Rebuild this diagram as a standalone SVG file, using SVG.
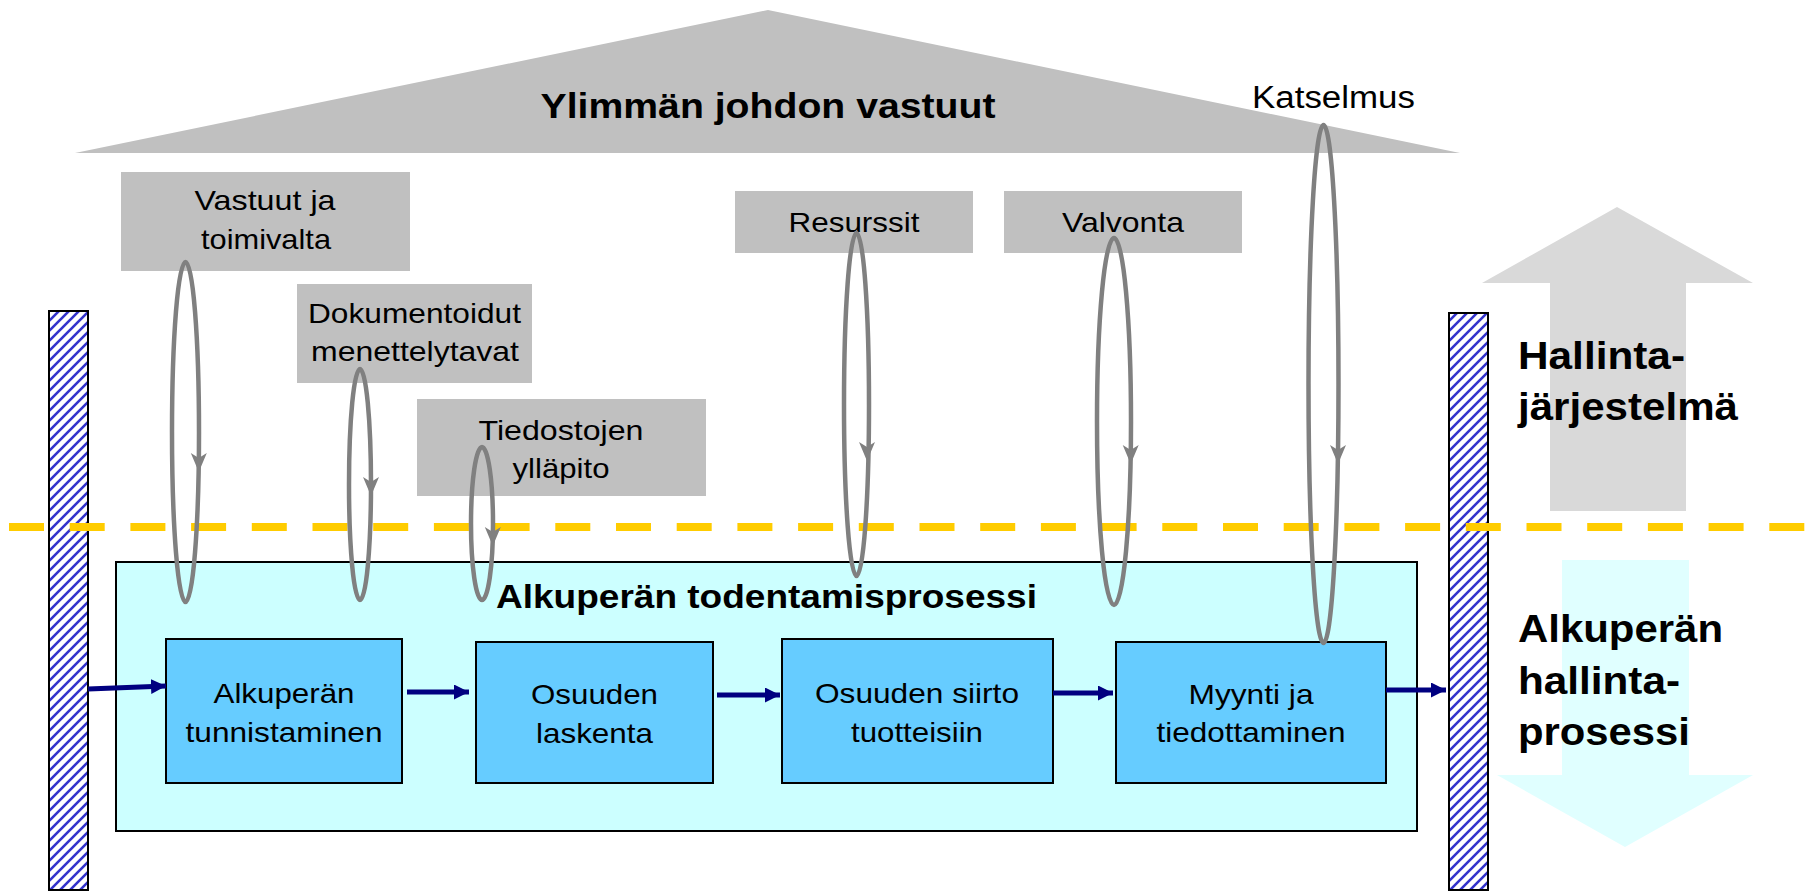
<svg xmlns="http://www.w3.org/2000/svg" width="1805" height="892" viewBox="0 0 1805 892">
<style>
.lbl{font-family:"Liberation Sans",Arial,sans-serif;font-size:28px;fill:#000;text-anchor:middle}
.bold{font-family:"Liberation Sans",Arial,sans-serif;font-weight:bold;fill:#000}
.gbox{fill:#c0c0c0}
.pbox{fill:#66ccff;stroke:#000;stroke-width:2}
.loop{fill:none;stroke:#808080;stroke-width:4.5}
.lhead{fill:#808080}
.flow{stroke:#000080;stroke-width:5;fill:none}
.bar{fill:url(#hatch);stroke:#000;stroke-width:2}
</style>
<defs>
<pattern id="hatch" patternUnits="userSpaceOnUse" width="10" height="10">
<rect width="10" height="10" fill="#fff"/>
<path d="M-1,1 l2,-2 M0,10 l10,-10 M9,11 l2,-2" stroke="#3333cc" stroke-width="2.6"/>
</pattern>
<marker id="ah" markerUnits="userSpaceOnUse" markerWidth="16" markerHeight="16" refX="15" refY="7.5" orient="auto">
<path d="M0,0 L15,7.5 L0,15 z" fill="#000080"/>
</marker>
</defs>

<g id="roof">
<polygon points="75,153 768,10 1460,153" fill="#c0c0c0"/>
<text class="bold" x="768" y="118" font-size="34.5" text-anchor="middle" textLength="455" lengthAdjust="spacingAndGlyphs">Ylimmän johdon vastuut</text>
</g>
<g id="katselmus-label">
<text x="1252" y="108" font-family="Liberation Sans,Arial,sans-serif" font-size="31" textLength="163" lengthAdjust="spacingAndGlyphs">Katselmus</text>
</g>

<g id="vastuut">
<rect class="gbox" x="121" y="172" width="289" height="99"/>
<text class="lbl" x="265" y="210" textLength="141" lengthAdjust="spacingAndGlyphs">Vastuut ja</text>
<text class="lbl" x="266" y="249" textLength="130" lengthAdjust="spacingAndGlyphs">toimivalta</text>
</g>
<g id="dokumentoidut">
<rect class="gbox" x="297" y="284" width="235" height="99"/>
<text class="lbl" x="414.5" y="323" textLength="213" lengthAdjust="spacingAndGlyphs">Dokumentoidut</text>
<text class="lbl" x="415" y="361" textLength="208" lengthAdjust="spacingAndGlyphs">menettelytavat</text>
</g>
<g id="tiedostojen">
<rect class="gbox" x="417" y="399" width="289" height="97"/>
<text class="lbl" x="561" y="440" textLength="165" lengthAdjust="spacingAndGlyphs">Tiedostojen</text>
<text class="lbl" x="561" y="478" textLength="97" lengthAdjust="spacingAndGlyphs">ylläpito</text>
</g>
<g id="resurssit">
<rect class="gbox" x="735" y="191" width="238" height="62"/>
<text class="lbl" x="854" y="232" textLength="131" lengthAdjust="spacingAndGlyphs">Resurssit</text>
</g>
<g id="valvonta">
<rect class="gbox" x="1004" y="191" width="238" height="62"/>
<text class="lbl" x="1123" y="232" textLength="122" lengthAdjust="spacingAndGlyphs">Valvonta</text>
</g>

<g id="up-arrow">
<polygon points="1617,207 1753,283 1686,283 1686,511 1550,511 1550,283 1482,283" fill="#d9d9d9"/>
<text class="bold" x="1518" y="369" font-size="38" textLength="167" lengthAdjust="spacingAndGlyphs">Hallinta-</text>
<text class="bold" x="1518" y="420" font-size="38" textLength="220" lengthAdjust="spacingAndGlyphs">järjestelmä</text>
</g>
<g id="down-arrow">
<polygon points="1562,560 1689,560 1689,775 1753,775 1625,847 1497,775 1562,775" fill="#e0ffff"/>
<text class="bold" x="1518" y="642" font-size="38" textLength="205" lengthAdjust="spacingAndGlyphs">Alkuperän</text>
<text class="bold" x="1518" y="694" font-size="38" textLength="162" lengthAdjust="spacingAndGlyphs">hallinta-</text>
<text class="bold" x="1518" y="745" font-size="38" textLength="172" lengthAdjust="spacingAndGlyphs">prosessi</text>
</g>

<g id="left-bar"><rect class="bar" x="49" y="311" width="39" height="579"/></g>
<g id="right-bar"><rect class="bar" x="1449" y="313" width="39" height="577"/></g>

<g id="process">
<rect x="116" y="562" width="1301" height="269" fill="#ccffff" stroke="#000" stroke-width="2"/>
<text class="bold" x="496" y="608" font-size="33" textLength="541" lengthAdjust="spacingAndGlyphs">Alkuperän todentamisprosessi</text>
</g>
<g id="tunnistaminen">
<rect class="pbox" x="166" y="639" width="236" height="144"/>
<text class="lbl" x="284" y="703" textLength="141" lengthAdjust="spacingAndGlyphs">Alkuperän</text>
<text class="lbl" x="284" y="742" textLength="197" lengthAdjust="spacingAndGlyphs">tunnistaminen</text>
</g>
<g id="laskenta">
<rect class="pbox" x="476" y="642" width="237" height="141"/>
<text class="lbl" x="594.5" y="704" textLength="127" lengthAdjust="spacingAndGlyphs">Osuuden</text>
<text class="lbl" x="594.5" y="743" textLength="117" lengthAdjust="spacingAndGlyphs">laskenta</text>
</g>
<g id="siirto">
<rect class="pbox" x="782" y="639" width="271" height="144"/>
<text class="lbl" x="917" y="703" textLength="204" lengthAdjust="spacingAndGlyphs">Osuuden siirto</text>
<text class="lbl" x="917" y="742" textLength="132" lengthAdjust="spacingAndGlyphs">tuotteisiin</text>
</g>
<g id="myynti">
<rect class="pbox" x="1116" y="642" width="270" height="141"/>
<text class="lbl" x="1251" y="704" textLength="125" lengthAdjust="spacingAndGlyphs">Myynti ja</text>
<text class="lbl" x="1251" y="742" textLength="189" lengthAdjust="spacingAndGlyphs">tiedottaminen</text>
</g>

<g id="divider">
<line x1="9" y1="527" x2="1805" y2="527" stroke="#ffcc00" stroke-width="8" stroke-dasharray="35 25.7"/>
</g>

<g id="connectors">
<line class="flow" x1="88" y1="689" x2="166" y2="686" marker-end="url(#ah)"/>
<line class="flow" x1="407" y1="692" x2="469" y2="692" marker-end="url(#ah)"/>
<line class="flow" x1="717" y1="695" x2="780" y2="695" marker-end="url(#ah)"/>
<line class="flow" x1="1053" y1="693" x2="1113" y2="693" marker-end="url(#ah)"/>
<line class="flow" x1="1386" y1="690" x2="1446" y2="690" marker-end="url(#ah)"/>

<ellipse class="loop" cx="185.5" cy="432" rx="13.5" ry="170"/>
<polygon class="lhead" points="190.8,453 198.8,458 206.8,453 198.8,472"/>
<ellipse class="loop" cx="360" cy="484.5" rx="11" ry="115.5"/>
<polygon class="lhead" points="363,477 371,482 379,477 371,496"/>
<ellipse class="loop" cx="482" cy="523.5" rx="11" ry="76.5"/>
<polygon class="lhead" points="484.8,527 492.8,532 500.8,527 492.8,546"/>
<ellipse class="loop" cx="856.5" cy="404.5" rx="12.5" ry="171.5"/>
<polygon class="lhead" points="859,442 867,447 875,442 867,461"/>
<ellipse class="loop" cx="1114" cy="421.5" rx="17" ry="183.5"/>
<polygon class="lhead" points="1122.7,445 1130.7,450 1138.7,445 1130.7,464"/>
<ellipse class="loop" cx="1323.5" cy="384" rx="15" ry="259"/>
<polygon class="lhead" points="1330,445 1338,450 1346,445 1338,464"/>
</g>
</svg>
